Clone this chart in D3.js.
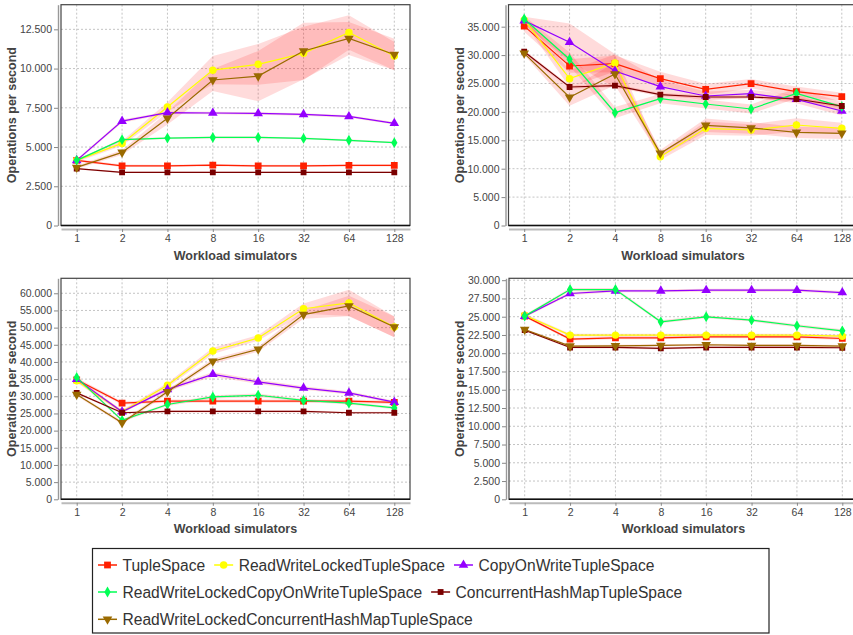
<!DOCTYPE html>
<html><head><meta charset="utf-8">
<script src="https://cdn.jsdelivr.net/npm/d3@7"></script>
<style>body{margin:0;background:#fff}svg{display:block;font-family:"Liberation Sans",Arial,sans-serif}</style>
</head><body><svg id="c" width="853" height="635"></svg>
<script>
const categories = ["1","2","4","8","16","32","64","128"];
const seriesNames = ["TupleSpace","ReadWriteLockedTupleSpace","CopyOnWriteTupleSpace","ReadWriteLockedCopyOnWriteTupleSpace","ConcurrentHashMapTupleSpace","ReadWriteLockedConcurrentHashMapTupleSpace"];
const seriesColors = ["#ff2000","#ffff00","#9400ff","#00ff55","#7a0000","#9a6a00"];
const seriesShapes = ["square","circle","triangle","diamond","square","triangleDown"];

// Panel A (top-left)
const panelA_values = [
  [4150,3800,3800,3850,3800,3800,3830,3830],
  [4150,5230,7550,9900,10270,10970,12300,10800],
  [4150,6650,7190,7170,7140,7080,6950,6510],
  [4150,5470,5570,5610,5610,5550,5430,5280],
  [3620,3390,3390,3390,3390,3390,3390,3390],
  [3700,4660,6830,9270,9520,11120,11920,10900]
];
const panelA_dev = [
  [80,80,70,70,70,70,70,70],
  [100,150,300,900,1300,1700,1100,900],
  [80,100,80,80,80,80,80,80],
  [60,80,60,60,60,60,60,60],
  [50,50,50,50,50,50,50,50],
  [100,150,400,700,1600,1800,1050,1000]
];
const panelA_ticks = [0,2500,5000,7500,10000,12500];

// Panel B (top-right)
const panelB_values = [
  [35100,28080,28490,25850,23970,24970,23560,22680],
  [36180,25850,28600,12110,17110,16810,17690,17110],
  [36060,32250,27200,24440,22800,23210,22210,20160],
  [36360,29260,19860,22330,21390,20510,23270,20920],
  [30600,24380,24620,23030,22620,22620,22270,21040],
  [30310,22570,26670,12710,17640,17170,16400,16230]
];
const panelB_dev = [
  [1000,1200,1500,1200,1000,800,900,700],
  [500,1500,1500,600,1200,1000,1200,1000],
  [700,3300,3000,1200,800,700,700,800],
  [500,1200,1000,800,800,800,900,800],
  [300,300,300,300,300,300,300,300],
  [300,1500,2000,600,1200,1000,1000,1000]
];
const panelB_ticks = [0,5000,10000,15000,20000,25000,30000,35000];

// Panel C (bottom-left)
const panelC_values = [
  [34800,28000,28600,28600,28600,28600,28600,28200],
  [34500,25500,33200,43200,47000,55500,57200,50200],
  [35000,25500,32000,36400,34200,32400,31000,28300],
  [35500,23000,27600,29800,30300,28800,28000,26600],
  [31000,25200,25600,25600,25600,25600,25200,25200],
  [30500,22300,31300,40200,43700,53800,56300,50200]
];
const panelC_dev = [
  [600,500,500,500,500,500,500,500],
  [500,500,700,900,800,1500,3800,3000],
  [500,400,500,700,600,500,500,400],
  [500,400,400,500,500,400,400,400],
  [300,300,300,300,300,300,300,300],
  [400,500,600,700,700,1200,3000,3000]
];
const panelC_ticks = [0,5000,10000,15000,20000,25000,30000,35000,40000,45000,50000,55000,60000];

// Panel D (bottom-right)
const panelD_values = [
  [25080,21930,22110,22110,22250,22250,22250,22020],
  [25200,22480,22480,22480,22480,22480,22480,22340],
  [25080,28180,28540,28540,28630,28630,28630,28310],
  [25080,28720,28720,24300,24990,24530,23760,23070],
  [23160,20790,20790,20660,20790,20790,20790,20750],
  [23250,20970,21020,21070,21160,21070,21070,20970]
];
const panelD_dev = [
  [200,200,200,200,200,200,200,200],
  [200,200,200,200,200,200,200,200],
  [200,200,200,200,200,200,200,200],
  [200,200,200,200,200,200,200,200],
  [150,150,150,150,150,150,150,150],
  [150,150,150,150,150,150,150,150]
];
const panelD_ticks = [0,2500,5000,7500,10000,12500,15000,17500,20000,22500,25000,27500,30000];

const yMaxes = [14070, 38870, 64360, 30260];
const xLabel = "Workload simulators";
const yLabel = "Operations per second";

const panels = [
  {vals: panelA_values, devs: panelA_dev, ticks: panelA_ticks, max: yMaxes[0], x0: 61, x1: 410, y0: 4.7, y1: 225.5},
  {vals: panelB_values, devs: panelB_dev, ticks: panelB_ticks, max: yMaxes[1], x0: 508.5, x1: 857.5, y0: 4.7, y1: 225.5},
  {vals: panelC_values, devs: panelC_dev, ticks: panelC_ticks, max: yMaxes[2], x0: 61, x1: 410, y0: 278.3, y1: 499.3},
  {vals: panelD_values, devs: panelD_dev, ticks: panelD_ticks, max: yMaxes[3], x0: 509, x1: 858, y0: 278.3, y1: 499.3}
];

const fmt = d3.formatLocale({decimal: ",", thousands: ".", grouping: [3], currency: ["", ""]}).format(",d");
const svg = d3.select("#c");

const shapeMap = {
  square: {type: d3.symbolSquare, size: 46},
  circle: {type: d3.symbolCircle, size: 44},
  triangle: {type: d3.symbolTriangle, size: 40},
  diamond: {type: d3.symbolDiamond, size: 34},
  triangleDown: {type: d3.symbolTriangle, size: 40, rot: 180}
};
function symbolPath(i) {
  const s = shapeMap[seriesShapes[i]];
  let size = s.size;
  if (i === 4) size = 34;
  return d3.symbol().type(s.type).size(size)();
}
function symbolRot(i) { return shapeMap[seriesShapes[i]].rot || 0; }

panels.forEach((p, pi) => {
  const g = svg.append("g");
  const x = d3.scalePoint().domain(categories).range([p.x0, p.x1]).padding(0.346);
  const y = d3.scaleLinear().domain([0, p.max]).range([p.y1, p.y0]);

  const clipId = "clip" + pi;
  svg.append("clipPath").attr("id", clipId).append("rect")
    .attr("x", p.x0).attr("y", p.y0).attr("width", p.x1 - p.x0).attr("height", p.y1 - p.y0);

  // gridlines
  g.append("g").selectAll("line").data(categories).join("line")
    .attr("x1", d => x(d)).attr("x2", d => x(d)).attr("y1", p.y0).attr("y2", p.y1)
    .attr("stroke", "#c4c4c4").attr("stroke-width", 1).attr("stroke-dasharray", "2,2");
  g.append("g").selectAll("line").data(p.ticks.filter(t => t > 0)).join("line")
    .attr("x1", p.x0).attr("x2", p.x1).attr("y1", d => y(d)).attr("y2", d => y(d))
    .attr("stroke", "#c4c4c4").attr("stroke-width", 1).attr("stroke-dasharray", "2,2");

  const plot = g.append("g").attr("clip-path", `url(#${clipId})`);

  // deviation bands
  p.vals.forEach((vals, si) => {
    const pts = vals.map((v, k) => ({c: categories[k], lo: v - p.devs[si][k], hi: v + p.devs[si][k]}));
    plot.append("path").datum(pts)
      .attr("d", d3.area().x(d => x(d.c)).y0(d => y(d.lo)).y1(d => y(d.hi)))
      .attr("fill", "#ff0000").attr("fill-opacity", 0.14);
  });

  // lines and markers
  p.vals.forEach((vals, si) => {
    const pts = vals.map((v, k) => ({c: categories[k], v}));
    plot.append("path").datum(pts)
      .attr("d", d3.line().x(d => x(d.c)).y(d => y(d.v)))
      .attr("fill", "none").attr("stroke", seriesColors[si]).attr("stroke-width", 1.2);
    plot.append("g").selectAll("path").data(pts).join("path")
      .attr("d", symbolPath(si))
      .attr("transform", d => `translate(${x(d.c)},${y(d.v)}) rotate(${symbolRot(si)})`)
      .attr("fill", seriesColors[si]);
  });

  // plot border
  g.append("rect").attr("x", p.x0).attr("y", p.y0).attr("width", p.x1 - p.x0).attr("height", p.y1 - p.y0)
    .attr("fill", "none").attr("stroke", "#444").attr("stroke-width", 1.2);
  g.append("line").attr("x1", p.x0).attr("x2", p.x1).attr("y1", p.y1).attr("y2", p.y1)
    .attr("stroke", "#111").attr("stroke-width", 1.6);

  // y axis
  const ya = g.append("g").attr("transform", `translate(${p.x0 - 3},0)`)
    .call(d3.axisLeft(y).tickValues(p.ticks).tickFormat(fmt).tickSize(4).tickSizeOuter(0).tickPadding(2));
  ya.select(".domain").attr("stroke", "#999").attr("stroke-width", 1.4);
  ya.selectAll(".tick line").attr("stroke", "#888");
  ya.selectAll(".tick text").attr("fill", "#444").attr("font-size", "10.5px")
    .attr("font-family", "Liberation Sans, Arial, sans-serif");

  // x axis
  const xa = g.append("g").attr("transform", `translate(0,${p.y1 + 3.5})`)
    .call(d3.axisBottom(x).tickSize(3).tickSizeOuter(0).tickPadding(3));
  xa.select(".domain").attr("stroke", "#bbb").attr("stroke-width", 2);
  xa.selectAll(".tick line").attr("stroke", "#888");
  xa.selectAll(".tick text").attr("fill", "#444").attr("font-size", "10.5px")
    .attr("font-family", "Liberation Sans, Arial, sans-serif");

  // axis labels
  g.append("text").attr("x", (p.x0 + p.x1) / 2).attr("y", p.y1 + 34)
    .attr("text-anchor", "middle").attr("font-weight", "bold").attr("font-size", "12.5px").attr("fill", "#444")
    .text(xLabel);
  g.append("text").attr("transform", `translate(${p.x0 - 45},${(p.y0 + p.y1) / 2}) rotate(-90)`)
    .attr("text-anchor", "middle").attr("font-weight", "bold").attr("font-size", "12.5px").attr("fill", "#444")
    .text(yLabel);
});

// legend
const legendRows = [[0,1,2],[3,4],[5]];
const lg = svg.append("g");
lg.append("rect").attr("x", 92.5).attr("y", 548.5).attr("width", 676.5).attr("height", 84.5)
  .attr("fill", "#fff").attr("stroke", "#222").attr("stroke-width", 1.2);
const rowYs = [565, 592, 619.3];
legendRows.forEach((row, ri) => {
  let sx = 98;
  row.forEach(si => {
    const yy = rowYs[ri];
    lg.append("line").attr("x1", sx).attr("x2", sx + 19).attr("y1", yy).attr("y2", yy)
      .attr("stroke", seriesColors[si]).attr("stroke-width", 1.5);
    lg.append("path").attr("d", symbolPath(si))
      .attr("transform", `translate(${sx + 9.5},${yy}) rotate(${symbolRot(si)})`).attr("fill", seriesColors[si]);
    const t = lg.append("text").attr("x", sx + 24.5).attr("y", yy).attr("dy", "0.36em")
      .attr("font-size", "15.6px").attr("fill", "#333").text(seriesNames[si]);
    sx = sx + 24.5 + t.node().getComputedTextLength() + 9;
  });
});
</script></body></html>
